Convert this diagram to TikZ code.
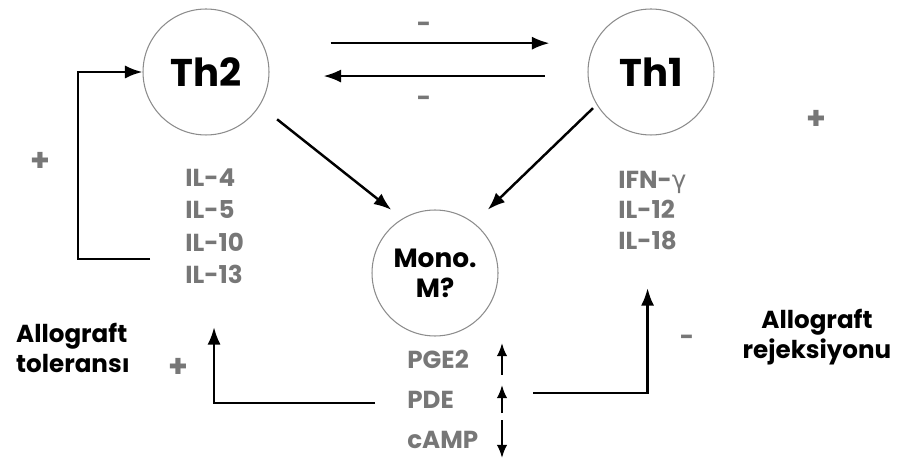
\documentclass[tikz,border=0pt]{standalone}
\usepackage{fontspec}
\setmainfont{Poppins}
\newfontfamily\grk{DejaVu Sans}
\usetikzlibrary{arrows.meta, positioning}

\definecolor{cytogray}{HTML}{777777}
\definecolor{ringgray}{HTML}{8C8C8C}

\begin{document}
\begin{tikzpicture}[x=0.02cm, y=-0.02cm,
    cell/.style={circle, draw=ringgray, line width=0.6pt, minimum size=2.52cm, inner sep=0pt, align=center},
    cellname/.style={font=\bfseries\fontsize{22}{24}\selectfont},
    cyto/.style={anchor=west, inner sep=0pt, text height=10pt, text depth=0pt, text=cytogray, font=\bfseries\fontsize{14}{16}\selectfont},
    sign/.style={text=cytogray, font=\bfseries\fontsize{18}{20}\selectfont},
    outcome/.style={align=center, font=\bfseries\fontsize{14}{17}\selectfont},
    arrow/.style={-{Latex[length=10pt, width=7.5pt]}, line width=1.4pt},
    small/.style={-{Latex[length=7.5pt, width=6pt]}, line width=1.2pt}
]
\useasboundingbox (0,0) rectangle (899,462);

% Cells
\node[cell, cellname] (th2) at (206,72) {Th2};
\node[cell, cellname] (th1) at (651,72) {Th1};
\node[cell, font=\bfseries\fontsize{15}{17}\selectfont] (mono) at (435,273) {Mono.\\M?};

% Th2 cytokines
\node[cyto] (il4) at (185,178) {IL-4};
\node[cyto] (il5) at (185,210) {IL-5};
\node[cyto] (il10) at (185,243) {IL-10};
\node[cyto] (il13) at (185,275) {IL-13};

% Th1 cytokines
\node[cyto] (ifng) at (618,180) {IFN-{\grk\mdseries γ}};
\node[cyto] (il12) at (618,210) {IL-12};
\node[cyto] (il18) at (618,241) {IL-18};

% Monocyte mediators
\node[cyto] (pge) at (407,360) {PGE2};
\node[cyto] (pde) at (407,400) {PDE};
\node[cyto] (camp) at (407,440) {cAMP};

% Outcomes
\node[outcome, align=left, anchor=west] (tol) at (10,348) {Allograft\\toleransı};
\node[outcome] (rej) at (817,337) {Allograft\\rejeksiyonu};

% Signs
\node[sign] (plusL) at (40,162) {+};
\node[sign] (plusR) at (816,120) {+};
\node[sign] (plusB) at (178,368) {+};
\node[sign, font=\bfseries\fontsize{14}{16}\selectfont] (minusT) at (424,27) {-};
\node[sign, font=\bfseries\fontsize{14}{16}\selectfont] (minusB) at (424,101) {-};
\node[sign, font=\bfseries\fontsize{14}{16}\selectfont] (minusR) at (687,340) {-};

% Th2 <-> Th1
\draw[arrow, shorten <=1.22cm, shorten >=0.76cm] ([yshift=16.4pt]th2.east) -- ([yshift=16.4pt]th1.west);
\draw[arrow, shorten <=0.86cm, shorten >=1.08cm] ([yshift=-2.3pt]th1.west) -- ([yshift=-2.3pt]th2.west -| th2.east);

% Cells -> Mono
\draw[arrow, shorten <=0.44cm, shorten >=0.28cm] (th2.-32) -- (mono.121);
\draw[arrow, shorten <=0.1cm, shorten >=0.38cm] (th1.-149) -- (mono.52);

% Feedback loops
\coordinate (fb) at (150,259);
\draw[arrow] (fb) -- ++(-72,0) |- (th2.west);
\coordinate (outL) at (375,403);
\draw[arrow, shorten >=0.86cm] (outL) -| (il13.south);
\coordinate (outR) at (533,393);
\draw[arrow, shorten >=0.76cm] (outR) -| (il18.south);

% Up / down markers
\foreach \a/\b in {375/343, 413/385, 420/458}
    \draw[small] (502,\a) -- (502,\b);

\end{tikzpicture}
\end{document}
